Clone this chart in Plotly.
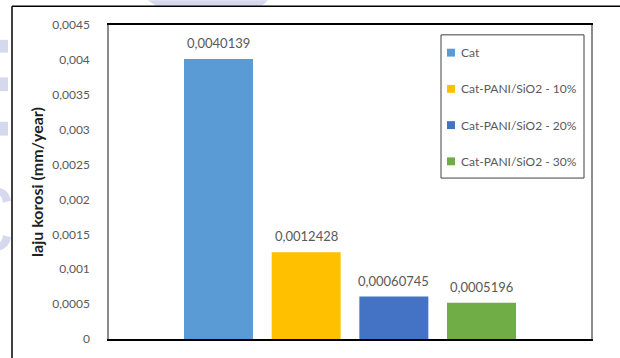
import plotly.graph_objects as go

# Corrosion rate per coating
series_names = ["Cat", "Cat-PANI/SiO2 - 10%", "Cat-PANI/SiO2 - 20%", "Cat-PANI/SiO2 - 30%"]
rates = [0.0040139, 0.0012428, 0.00060745, 0.0005196]
colors = ["#5B9BD5", "#FFC000", "#4472C4", "#70AD47"]

y_ticks = [0, 0.0005, 0.001, 0.0015, 0.002, 0.0025, 0.003, 0.0035, 0.004, 0.0045]
y_tick_labels = ["0", "0,0005", "0,001", "0,0015", "0,002", "0,0025", "0,003", "0,0035", "0,004", "0,0045"]
y_title = "laju korosi (mm/year)"

W, H = 620, 358
L, R, T, B = 109, 591, 25, 343   # plot area in pixels

FONT = "Lato, 'Open Sans', sans-serif"
GREY = "#595959"


def px(x):
    return (x - L) / (R - L)


def py(y):
    return (B - y) / (B - T)


def label(v):
    return repr(v).replace(".", ",")


fig = go.Figure()
for name, val, col in zip(series_names, rates, colors):
    fig.add_trace(go.Bar(
        x=[name], y=[val], name=name,
        marker=dict(color=col, line=dict(width=0)),
        hoverinfo="name+y", showlegend=False,
    ))
    fig.add_annotation(
        x=name, y=val, text=label(val), showarrow=False,
        yanchor="bottom", yshift=6,
        font=dict(family=FONT, size=13, color=GREY),
    )

shapes = []
# chart frame (left and top edges)
shapes.append(dict(type="line", xref="paper", yref="paper",
                   x0=px(12), x1=px(12), y0=py(6), y1=py(W),
                   line=dict(color="#000000", width=1.5)))
shapes.append(dict(type="line", xref="paper", yref="paper",
                   x0=px(12), x1=px(W + 5), y0=py(6), y1=py(6),
                   line=dict(color="#000000", width=1.5)))

# legend: frame, colour keys and names
shapes.append(dict(type="rect", xref="paper", yref="paper",
                   x0=px(441), x1=px(584), y0=py(35), y1=py(180),
                   line=dict(color="#404040", width=1), fillcolor="rgba(0,0,0,0)"))
LEG_Y0, LEG_DY = 53, 36.7
for i, (name, col) in enumerate(zip(series_names, colors)):
    yc = LEG_Y0 + i * LEG_DY
    shapes.append(dict(type="rect", xref="paper", yref="paper",
                       x0=px(447), x1=px(455), y0=py(yc - 4), y1=py(yc + 4),
                       line=dict(width=0), fillcolor=col))
    fig.add_annotation(
        xref="paper", yref="paper", x=px(459), y=py(yc),
        xanchor="left", yanchor="middle", text=name, showarrow=False,
        font=dict(family=FONT, size=12, color=GREY),
    )

# faint background logo peeking out around the frame
WM = "#D6D9EE"
for y0, y1 in [(40, 53), (78, 92), (123, 137)]:
    shapes.append(dict(type="rect", xref="paper", yref="paper", layer="below",
                       x0=px(0), x1=px(8), y0=py(y0), y1=py(y1),
                       line=dict(width=0), fillcolor=WM))
shapes.append(dict(type="path", xref="paper", yref="paper", layer="below",
                   path=(f"M {px(148)},{py(0)} L {px(268)},{py(0)} "
                         f"L {px(262)},{py(5.5)} L {px(156)},{py(5.5)} Z"),
                   line=dict(width=0), fillcolor=WM))
shapes.append(dict(type="path", xref="paper", yref="paper", layer="below",
                   path=(f"M {px(0)},{py(190)} Q {px(9)},{py(192)} {px(11)},{py(203)} "
                         f"L {px(3)},{py(205)} Q {px(2)},{py(199)} {px(0)},{py(198)} Z "
                         f"M {px(0)},{py(253)} Q {px(9)},{py(251)} {px(11)},{py(240)} "
                         f"L {px(3)},{py(238)} Q {px(2)},{py(244)} {px(0)},{py(245)} Z"),
                   line=dict(width=0), fillcolor=WM))

fig.update_layout(
    width=W, height=H,
    margin=dict(l=L, r=W - R, t=T, b=H - B, pad=0),
    paper_bgcolor="#FFFFFF", plot_bgcolor="#FFFFFF",
    barmode="overlay", bargap=0.213,
    separators=", ",
    font=dict(family=FONT, size=12, color=GREY),
    showlegend=False,
    shapes=shapes,
)
fig.update_xaxes(
    type="category", range=[-1.249, 4.249],
    showticklabels=False, ticks="", showgrid=False, zeroline=False,
    showline=True, linecolor="#000000", linewidth=1.5, mirror=True,
)
fig.update_yaxes(
    range=[0, 0.0045], tickvals=y_ticks, ticktext=y_tick_labels,
    ticks="", ticklabelstandoff=15, showgrid=False, zeroline=False,
    showline=True, linecolor="#8C8C8C", linewidth=1.5, mirror=True,
    tickfont=dict(family=FONT, size=12, color=GREY),
    title=dict(text=f"<b>{y_title}</b>", standoff=5,
               font=dict(family=FONT, size=16, color="#1F1F1F")),
)

fig.write_html("out.html")
